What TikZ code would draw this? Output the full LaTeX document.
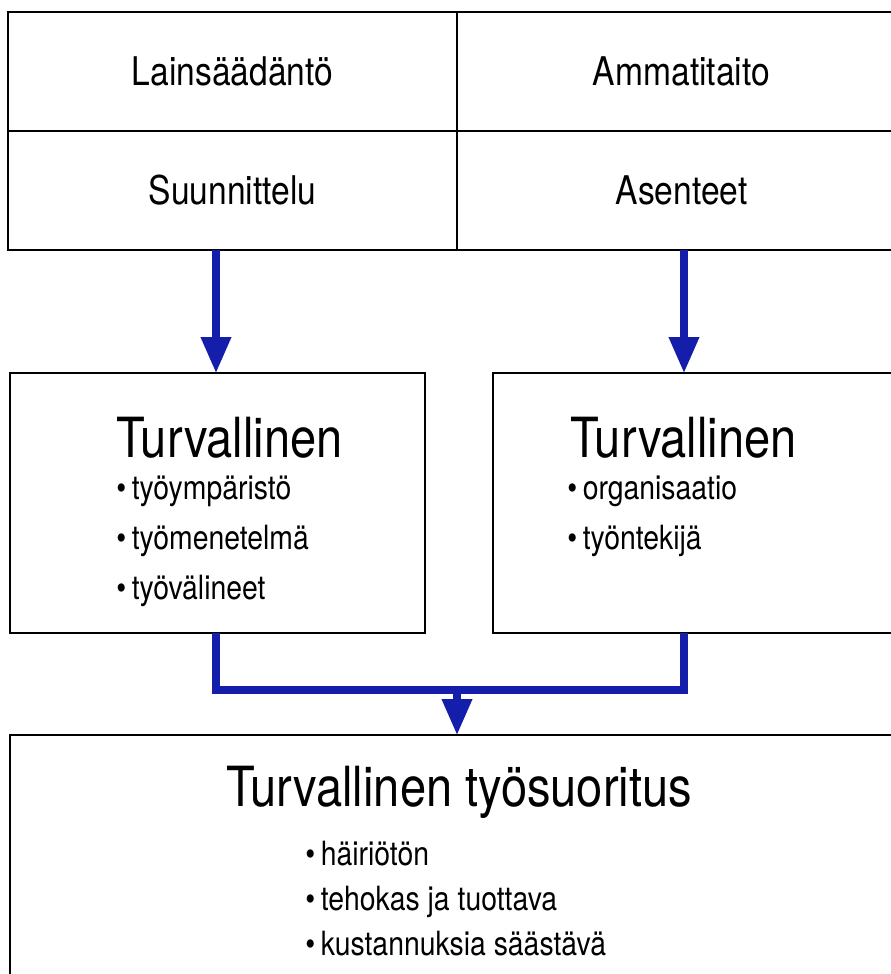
\documentclass[tikz,border=0pt]{standalone}
\usepackage{fontspec}
\setmainfont{TeX Gyre Heros}[FakeStretch=0.85]
\usetikzlibrary{arrows.meta}
\definecolor{flowblue}{RGB}{20,30,170}

\begin{document}
\begin{tikzpicture}[x=0.02cm, y=-0.02cm,
    cell/.style={draw, line width=1.1pt, inner sep=0pt, outer sep=0pt,
        minimum width=8.98cm, minimum height=2.38cm, font=\fontsize{22.5}{27}\selectfont},
    panel/.style={draw, line width=1.1pt, inner sep=0pt, outer sep=0pt},
    heading/.style={font=\fontsize{31.5}{37}\selectfont, inner sep=0pt},
    item/.style={font=\fontsize{19}{23}\selectfont, inner sep=0pt},
    flow/.style={flowblue, line width=4pt, -{Triangle[width=0.58cm, length=0.72cm]}},
    flowline/.style={flowblue, line width=4pt, line join=miter}]
    \useasboundingbox (0,0) rectangle (891,974);
    \clip (0,0) rectangle (891,974);

    % top table
    \node[cell] (law) at (232.5,71.5) {Lainsäädäntö};
    \node[cell] (skill) at (681.5,71.5) {Ammatitaito};
    \node[cell] (plan) at (232.5,190.5) {Suunnittelu};
    \node[cell] (attitude) at (681.5,190.5) {Asenteet};

    % boxes
    \node[panel, minimum width=8.3cm, minimum height=5.2cm] (env) at (217.5,503) {};
    \node[panel, minimum width=8.24cm, minimum height=5.2cm] (org) at (699,503) {};
    \node[panel, minimum width=17.9cm, minimum height=5.3cm] (perf) at (457.5,867.5) {};

    \node[heading, anchor=base west] (envhead) at (116,457) {Turvallinen};
    \foreach \i/\w in {0/työympäristö, 1/työmenetelmä, 2/työvälineet} {
        \node[item, anchor=base west] (envitem\i) at (116,499+50*\i) {\textbullet\,\w};
    }

    \node[heading, anchor=base west] (orghead) at (570,457) {Turvallinen};
    \foreach \i/\w in {0/organisaatio, 1/työntekijä} {
        \node[item, anchor=base west] (orgitem\i) at (567,499+50*\i) {\textbullet\,\w};
    }

    \node[heading, anchor=base] (perfhead) at (459,806) {Turvallinen työsuoritus};
    \foreach \i/\w in {0/häiriötön, 1/tehokas ja tuottava, 2/kustannuksia säästävä} {
        \node[item, anchor=base west] (perfitem\i) at (305,865+45*\i) {\textbullet\,\w};
    }

    % arrows
    \coordinate (ldrop) at (216,373);
    \coordinate (rdrop) at (684,373);
    \coordinate (join) at (457,690);
    \draw[flow] (ldrop |- plan.south) -- (ldrop |- env.north);
    \draw[flow] (rdrop |- attitude.south) -- (rdrop |- org.north);
    \draw[flowline] (ldrop |- env.south) |- (join) -| (rdrop |- org.south);
    \draw[flow] (join) -- (join |- perf.north);
\end{tikzpicture}
\end{document}
